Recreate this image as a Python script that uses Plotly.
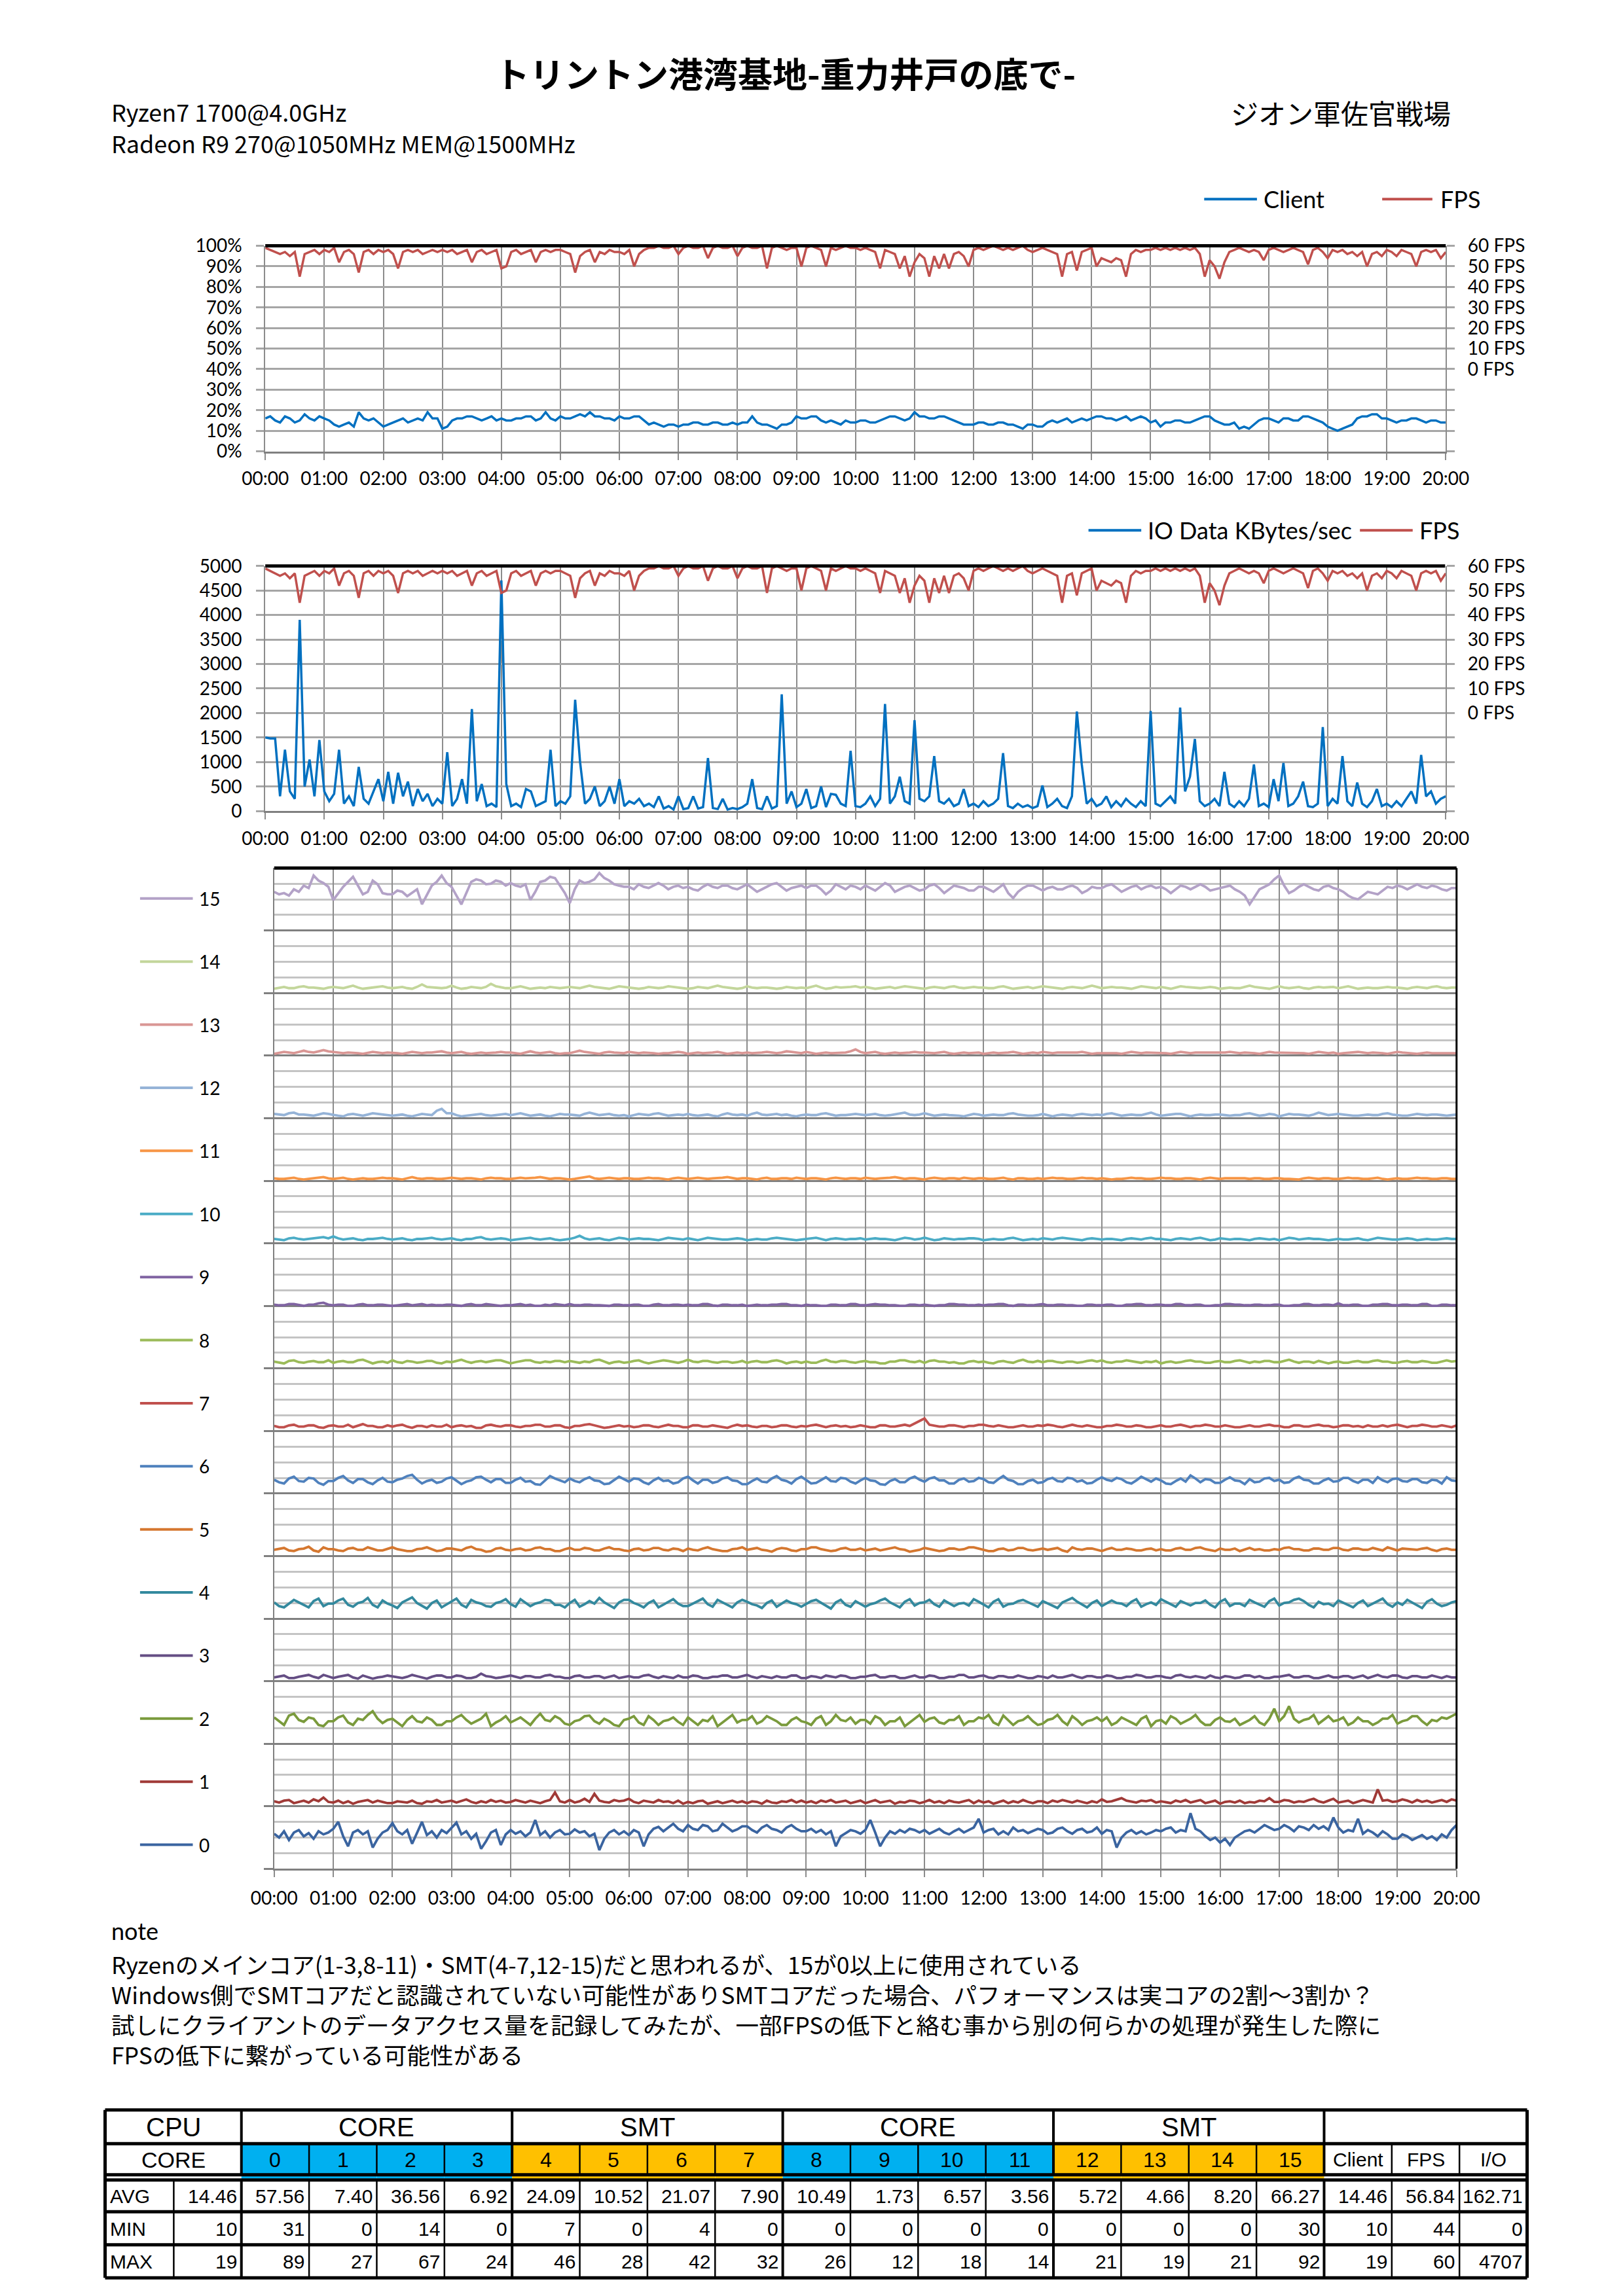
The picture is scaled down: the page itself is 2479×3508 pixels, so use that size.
import plotly.graph_objects as go

W, H = 2479, 3508


def px(x):
    return x / W


def py(y):
    return 1 - y / H


# ---------------- data (one sample every 5 s, 00:00 - 20:00) ----------------
seconds = list(range(0, 1201, 5))
tick_seconds = list(range(0, 1201, 60))
tick_labels = ["00:00", "01:00", "02:00", "03:00", "04:00", "05:00", "06:00", "07:00",
               "08:00", "09:00", "10:00", "11:00", "12:00", "13:00", "14:00", "15:00",
               "16:00", "17:00", "18:00", "19:00", "20:00"]

pct_ticks = [0, 10, 20, 30, 40, 50, 60, 70, 80, 90, 100]
pct_labels = ["0%", "10%", "20%", "30%", "40%", "50%", "60%", "70%", "80%", "90%", "100%"]
io_ticks = [0, 500, 1000, 1500, 2000, 2500, 3000, 3500, 4000, 4500, 5000]
io_labels = ["0", "500", "1000", "1500", "2000", "2500", "3000", "3500", "4000", "4500", "5000"]
fps_ticks = [-40, -30, -20, -10, 0, 10, 20, 30, 40, 50, 60]
fps_labels = ["", "", "", "", "0 FPS", "10 FPS", "20 FPS", "30 FPS", "40 FPS", "50 FPS", "60 FPS"]

fps = [
    59, 58, 57, 56, 57, 55, 57, 45, 56, 57, 58, 56,
    58, 57, 59, 52, 57, 58, 56, 47, 57, 58, 56, 58,
    57, 58, 56, 49, 57, 58, 57, 58, 56, 57, 58, 57,
    58, 57, 58, 56, 57, 58, 52, 57, 58, 56, 57, 58,
    49, 50, 57, 58, 56, 57, 58, 52, 57, 58, 57, 58,
    58, 57, 56, 47, 55, 57, 58, 52, 57, 56, 58, 57,
    57, 56, 58, 50, 56, 58, 59, 59, 60, 59, 59, 60,
    56, 59, 60, 59, 59, 60, 54, 59, 60, 59, 59, 60,
    55, 59, 60, 59, 59, 60, 49, 59, 60, 59, 58, 59,
    59, 50, 59, 60, 59, 58, 50, 59, 58, 59, 60, 59,
    59, 58, 59, 58, 57, 49, 58, 57, 56, 49, 55, 45,
    52, 56, 54, 45, 55, 49, 56, 49, 56, 57, 55, 50,
    58, 59, 58, 59, 60, 59, 58, 59, 58, 59, 60, 58,
    57, 58, 59, 58, 57, 56, 45, 56, 57, 48, 57, 58,
    59, 50, 54, 53, 52, 54, 53, 45, 56, 58, 57, 58,
    58, 59, 58, 59, 58, 59, 58, 59, 58, 59, 56, 45,
    53, 50, 44, 52, 57, 58, 59, 58, 57, 58, 57, 53,
    58, 59, 58, 57, 58, 59, 58, 57, 51, 58, 59, 57,
    54, 58, 57, 58, 56, 57, 55, 57, 50, 56, 57, 55,
    58, 57, 55, 58, 57, 56, 50, 57, 58, 57, 58, 54,
    57]

client = [
    16, 17, 15, 14, 17, 16, 14, 15, 18, 16, 15, 17,
    16, 15, 13, 12, 13, 14, 12, 19, 16, 15, 16, 14,
    12, 13, 14, 15, 16, 14, 15, 16, 15, 19, 16, 16,
    11, 12, 15, 16, 16, 17, 17, 16, 15, 16, 17, 15,
    16, 15, 15, 16, 16, 17, 17, 15, 16, 19, 16, 15,
    17, 16, 16, 17, 18, 17, 19, 17, 17, 16, 16, 15,
    17, 16, 16, 17, 17, 15, 13, 14, 13, 12, 13, 13,
    12, 13, 13, 14, 14, 13, 13, 14, 14, 13, 13, 14,
    13, 14, 14, 17, 14, 13, 13, 12, 11, 13, 13, 14,
    17, 16, 16, 17, 17, 15, 14, 15, 14, 13, 15, 14,
    14, 15, 15, 14, 14, 15, 16, 17, 17, 16, 15, 16,
    19, 17, 17, 16, 16, 17, 17, 16, 15, 14, 13, 13,
    13, 14, 14, 13, 13, 14, 14, 13, 13, 12, 11, 13,
    13, 12, 12, 14, 15, 14, 15, 16, 14, 15, 16, 15,
    16, 17, 17, 16, 16, 15, 16, 17, 15, 16, 17, 16,
    14, 15, 12, 14, 14, 15, 15, 14, 14, 15, 16, 17,
    17, 15, 14, 13, 13, 14, 11, 12, 11, 13, 15, 16,
    16, 15, 14, 16, 16, 15, 15, 17, 17, 16, 15, 14,
    12, 11, 10, 11, 12, 13, 16, 17, 17, 18, 18, 16,
    16, 15, 14, 15, 15, 16, 16, 15, 14, 15, 15, 14,
    14]

io_kb = [
    1500, 1480, 1480, 300, 1250, 400, 250, 3900, 500, 1050, 300, 1450,
    400, 200, 350, 1250, 150, 300, 100, 900, 250, 150, 400, 650,
    200, 800, 150, 780, 300, 600, 100, 450, 200, 350, 100, 250,
    150, 1200, 100, 250, 650, 150, 2080, 200, 550, 100, 150, 80,
    4707, 550, 100, 150, 80, 450, 400, 100, 150, 200, 1250, 100,
    200, 150, 300, 2270, 1000, 150, 250, 500, 100, 200, 500, 150,
    650, 100, 200, 150, 250, 100, 150, 80, 300, 50, 100, 30,
    300, 40, 60, 300, 50, 80, 1080, 60, 40, 250, 30, 60,
    40, 80, 150, 650, 60, 40, 300, 50, 100, 2380, 150, 400,
    80, 150, 450, 60, 100, 500, 80, 350, 330, 150, 100, 1230,
    100, 80, 150, 300, 100, 250, 2185, 150, 300, 700, 200, 150,
    1854, 250, 200, 300, 1120, 200, 150, 250, 100, 150, 450, 100,
    150, 80, 200, 100, 150, 250, 1180, 100, 60, 150, 80, 120,
    60, 100, 520, 80, 150, 250, 100, 60, 300, 2029, 950, 150,
    250, 100, 150, 300, 80, 200, 100, 250, 150, 80, 200, 100,
    2040, 150, 100, 200, 300, 150, 2110, 400, 700, 1470, 200, 100,
    150, 250, 100, 800, 150, 80, 200, 100, 250, 950, 100, 150,
    80, 650, 200, 980, 100, 150, 300, 600, 100, 80, 150, 1712,
    100, 250, 150, 1120, 200, 100, 580, 150, 80, 200, 450, 100,
    150, 80, 200, 100, 250, 400, 150, 1145, 300, 400, 150, 250,
    300]

core_0 = [
    56, 50, 60, 46, 58, 62, 52, 57, 48, 60, 55, 58,
    64, 75, 52, 36, 58, 62, 55, 60, 34, 48, 58, 62,
    73, 60, 55, 62, 40, 58, 75, 54, 60, 50, 62, 57,
    66, 74, 55, 60, 48, 56, 32, 44, 58, 62, 38, 55,
    62, 56, 60, 52, 58, 78, 54, 60, 50, 58, 62, 55,
    56, 63, 58, 60, 52, 56, 30, 48, 58, 62, 55, 60,
    54, 62, 58, 36, 55, 64, 67, 60, 66, 72, 64, 60,
    70, 64, 62, 70, 68, 60, 62, 72, 66, 60, 63, 68,
    68, 62, 58, 66, 70, 64, 62, 58, 66, 70, 64, 60,
    60, 64, 58, 62, 55, 60, 36, 52, 57, 62, 60, 56,
    62, 78, 58, 36, 50, 60, 56, 62, 58, 64, 62, 58,
    62, 56, 60, 64, 58, 55, 60, 64, 58, 62, 66, 80,
    58, 62, 64, 55, 60, 55, 66, 60, 62, 57, 60, 64,
    62, 56, 58, 64, 66, 60, 56, 62, 64, 58, 60, 66,
    56, 62, 60, 34, 50, 58, 62, 56, 60, 55, 58, 62,
    60, 64, 66, 58, 62, 60, 89, 64, 60, 52, 46, 50,
    42, 48, 38, 50, 55, 60, 62, 58, 64, 70, 66, 62,
    64, 70, 66, 60, 68, 66, 62, 70, 64, 68, 62, 82,
    66, 58, 62, 60, 80, 56, 62, 58, 52, 60, 55, 48,
    48, 55, 52, 46, 50, 54, 48, 52, 46, 55, 50, 62,
    70]

core_1 = [
    8, 6, 9, 10, 5, 7, 9, 6, 11, 8, 14, 7,
    6, 9, 5, 8, 4, 7, 8, 10, 6, 9, 7, 5,
    5, 8, 7, 6, 9, 5, 4, 8, 7, 10, 6, 8,
    9, 6, 8, 11, 7, 5, 8, 6, 10, 7, 9, 6,
    7, 10, 8, 6, 9, 7, 5, 8, 10, 22, 8, 6,
    10, 6, 8, 12, 7, 20, 9, 7, 6, 10, 8, 9,
    12, 7, 5, 9, 8, 6, 10, 7, 8, 5, 9, 4,
    7, 5, 8, 9, 4, 6, 8, 5, 7, 9, 6, 8,
    5, 8, 7, 4, 9, 6, 5, 8, 7, 10, 6, 9,
    6, 8, 5, 9, 7, 10, 6, 8, 9, 5, 7, 9,
    5, 8, 10, 6, 8, 9, 4, 7, 6, 9, 8, 5,
    7, 10, 6, 8, 5, 9, 7, 6, 8, 10, 5, 9,
    6, 8, 4, 7, 9, 5, 8, 6, 10, 7, 5, 8,
    8, 5, 9, 7, 10, 8, 6, 9, 7, 5, 8, 6,
    11, 7, 8, 10, 13, 9, 7, 6, 9, 8, 10, 6,
    8, 6, 5, 9, 7, 10, 6, 8, 10, 5, 7, 9,
    4, 7, 8, 6, 9, 5, 7, 6, 9, 8, 13, 7,
    7, 10, 9, 6, 8, 7, 10, 12, 8, 6, 9, 12,
    6, 8, 9, 5, 7, 10, 8, 6, 27, 9, 10, 7,
    8, 11, 9, 6, 10, 7, 9, 6, 8, 10, 7, 11,
    9]

core_2 = [
    42, 36, 30, 45, 48, 38, 35, 42, 40, 30, 28, 36,
    36, 42, 45, 34, 30, 40, 38, 46, 52, 40, 33, 38,
    40, 34, 28, 38, 44, 36, 34, 42, 38, 30, 30, 36,
    36, 42, 46, 38, 32, 36, 40, 48, 28, 34, 38, 44,
    34, 38, 42, 36, 30, 40, 48, 38, 36, 44, 40, 32,
    30, 36, 38, 44, 45, 36, 32, 40, 36, 30, 28, 38,
    40, 44, 34, 30, 44, 38, 30, 36, 38, 42, 35, 30,
    42, 36, 30, 38, 36, 44, 28, 34, 40, 46, 34, 38,
    38, 44, 32, 36, 44, 40, 36, 30, 30, 38, 42, 36,
    34, 30, 40, 44, 30, 36, 46, 38, 36, 42, 32, 38,
    38, 32, 44, 40, 30, 36, 36, 42, 28, 34, 40, 46,
    35, 40, 42, 34, 32, 38, 38, 44, 30, 36, 36, 42,
    40, 46, 34, 30, 45, 38, 30, 36, 38, 44, 36, 30,
    32, 38, 40, 46, 36, 30, 44, 38, 30, 36, 38, 42,
    36, 42, 30, 34, 42, 38, 34, 30, 40, 44, 28, 36,
    38, 32, 44, 40, 32, 36, 40, 46, 36, 30, 30, 38,
    42, 36, 35, 40, 30, 34, 38, 44, 34, 30, 40, 56,
    36, 44, 60, 40, 34, 38, 40, 46, 32, 38, 44, 36,
    38, 42, 30, 34, 42, 36, 36, 30, 34, 40, 40, 46,
    32, 36, 38, 44, 44, 36, 30, 38, 36, 42, 40, 44,
    48]

core_3 = [
    6, 8, 9, 5, 5, 7, 8, 10, 7, 5, 10, 8,
    5, 7, 8, 10, 6, 4, 9, 7, 4, 6, 7, 9,
    8, 6, 5, 7, 10, 8, 6, 4, 7, 9, 9, 6,
    6, 9, 8, 5, 5, 7, 12, 8, 7, 5, 6, 8,
    9, 7, 5, 8, 8, 6, 6, 9, 10, 7, 7, 5,
    5, 8, 9, 6, 6, 8, 8, 5, 7, 9, 5, 7,
    8, 6, 6, 9, 10, 7, 5, 8, 7, 5, 9, 6,
    6, 9, 8, 5, 5, 7, 7, 9, 9, 6, 6, 8,
    10, 7, 5, 8, 7, 5, 8, 6, 6, 9, 9, 5,
    5, 8, 7, 5, 9, 7, 6, 9, 8, 5, 5, 7,
    7, 9, 10, 6, 6, 8, 8, 5, 5, 7, 9, 6,
    6, 9, 8, 5, 5, 7, 7, 10, 10, 6, 6, 8,
    9, 6, 5, 8, 8, 6, 6, 9, 7, 5, 5, 8,
    7, 5, 9, 6, 6, 8, 10, 7, 5, 8, 8, 6,
    6, 9, 8, 5, 5, 7, 7, 10, 9, 6, 6, 8,
    8, 6, 5, 9, 10, 7, 6, 8, 7, 5, 9, 6,
    5, 8, 7, 5, 6, 9, 9, 6, 8, 5, 5, 7,
    7, 9, 10, 6, 6, 8, 8, 5, 5, 7, 9, 6,
    6, 8, 8, 5, 7, 9, 5, 8, 10, 7, 6, 9,
    9, 6, 5, 8, 8, 6, 6, 9, 7, 5, 8, 6,
    6]

core_4 = [
    26, 20, 18, 24, 30, 26, 22, 18, 28, 32, 20, 24,
    24, 29, 32, 22, 19, 25, 27, 33, 22, 18, 29, 24,
    21, 17, 26, 30, 34, 25, 20, 16, 25, 29, 18, 23,
    28, 32, 22, 18, 30, 26, 24, 20, 19, 25, 27, 31,
    23, 19, 31, 26, 20, 24, 26, 30, 29, 22, 22, 18,
    25, 30, 19, 23, 28, 24, 33, 26, 21, 17, 26, 30,
    30, 25, 22, 18, 25, 29, 18, 22, 27, 31, 24, 20,
    20, 24, 28, 32, 23, 19, 30, 26, 22, 18, 26, 30,
    27, 23, 21, 17, 25, 29, 19, 24, 29, 25, 23, 19,
    24, 28, 30, 25, 20, 16, 26, 30, 22, 19, 28, 24,
    19, 23, 25, 29, 32, 26, 22, 18, 27, 31, 21, 25,
    26, 30, 23, 19, 29, 25, 20, 24, 25, 21, 31, 27,
    22, 18, 27, 31, 19, 23, 24, 28, 30, 26, 23, 19,
    28, 24, 21, 17, 26, 30, 33, 27, 22, 18, 25, 29,
    20, 24, 29, 25, 24, 20, 27, 31, 19, 23, 26, 22,
    31, 27, 23, 19, 28, 24, 21, 25, 25, 29, 22, 18,
    27, 31, 20, 24, 24, 20, 30, 26, 23, 19, 28, 32,
    21, 25, 26, 30, 32, 28, 22, 18, 27, 23, 24, 20,
    29, 25, 22, 18, 25, 29, 20, 24, 28, 32, 23, 19,
    26, 22, 30, 26, 21, 17, 27, 31, 24, 20, 22, 26,
    28]

core_5 = [
    10, 12, 13, 9, 8, 11, 12, 15, 9, 7, 14, 11,
    11, 9, 8, 12, 13, 10, 10, 14, 12, 9, 9, 12,
    14, 11, 10, 8, 8, 11, 12, 14, 11, 8, 9, 12,
    12, 10, 9, 13, 15, 11, 10, 7, 8, 12, 13, 10,
    9, 11, 12, 9, 10, 13, 14, 11, 11, 8, 8, 11,
    13, 10, 10, 13, 12, 9, 9, 12, 14, 11, 11, 9,
    8, 11, 12, 9, 10, 13, 13, 10, 9, 12, 11, 8,
    12, 10, 9, 12, 14, 11, 10, 8, 8, 11, 12, 14,
    10, 12, 13, 10, 9, 7, 11, 13, 12, 9, 8, 11,
    11, 14, 14, 11, 10, 8, 9, 12, 13, 10, 10, 12,
    9, 11, 12, 9, 11, 13, 14, 11, 10, 7, 8, 10,
    13, 11, 10, 8, 9, 12, 12, 10, 11, 14, 14, 12,
    10, 8, 8, 11, 12, 9, 10, 13, 13, 10, 9, 11,
    12, 10, 11, 13, 9, 7, 14, 11, 10, 12, 12, 10,
    8, 11, 13, 10, 10, 12, 11, 9, 9, 11, 12, 9,
    11, 9, 9, 12, 13, 10, 10, 13, 14, 11, 10, 8,
    12, 10, 10, 12, 8, 11, 13, 10, 11, 9, 9, 11,
    10, 13, 14, 11, 11, 9, 9, 12, 12, 10, 10, 13,
    13, 10, 9, 12, 12, 10, 10, 13, 11, 9, 14, 11,
    9, 12, 11, 10, 10, 12, 13, 10, 8, 11, 12, 10,
    10]

core_6 = [
    22, 18, 16, 24, 27, 20, 19, 25, 24, 17, 14, 20,
    20, 25, 28, 21, 17, 23, 23, 18, 15, 21, 25, 19,
    18, 22, 24, 28, 30, 22, 16, 20, 22, 17, 19, 24,
    26, 20, 15, 19, 21, 26, 27, 22, 18, 23, 23, 17,
    17, 22, 25, 19, 20, 15, 14, 21, 28, 24, 21, 18,
    24, 20, 18, 23, 26, 21, 20, 15, 16, 22, 27, 23,
    19, 24, 23, 18, 15, 21, 25, 20, 21, 16, 18, 24,
    27, 21, 16, 22, 22, 17, 19, 24, 26, 21, 20, 15,
    15, 20, 24, 19, 18, 24, 28, 22, 20, 16, 23, 27,
    21, 16, 17, 22, 26, 20, 19, 25, 24, 19, 16, 21,
    25, 21, 20, 15, 14, 20, 23, 18, 18, 24, 27, 22,
    19, 24, 26, 21, 21, 16, 16, 22, 24, 19, 20, 25,
    23, 18, 17, 23, 28, 22, 20, 15, 15, 20, 22, 17,
    18, 23, 25, 20, 19, 25, 24, 19, 21, 16, 17, 22,
    26, 22, 20, 25, 23, 18, 16, 21, 27, 23, 19, 24,
    21, 16, 15, 20, 24, 19, 29, 24, 18, 23, 22, 17,
    17, 22, 26, 21, 20, 15, 23, 18, 19, 24, 25, 20,
    22, 17, 18, 24, 27, 22, 21, 16, 16, 21, 24, 19,
    20, 25, 25, 20, 17, 22, 22, 17, 26, 21, 18, 23,
    24, 20, 19, 23, 23, 18, 17, 22, 21, 16, 26, 21,
    20]

core_7 = [
    8, 6, 6, 9, 10, 7, 7, 9, 9, 6, 5, 8,
    9, 7, 7, 10, 6, 9, 11, 8, 8, 6, 6, 9,
    7, 9, 10, 7, 5, 8, 8, 6, 9, 7, 7, 10,
    6, 8, 9, 7, 8, 5, 5, 9, 10, 8, 7, 9,
    9, 7, 6, 8, 8, 10, 10, 7, 7, 9, 9, 6,
    5, 8, 8, 10, 11, 9, 7, 5, 6, 8, 9, 7,
    8, 6, 7, 9, 9, 7, 6, 8, 10, 8, 8, 6,
    6, 9, 9, 7, 7, 9, 8, 6, 5, 8, 10, 8,
    9, 7, 6, 8, 8, 6, 7, 9, 9, 7, 6, 8,
    7, 9, 10, 8, 6, 8, 9, 7, 8, 6, 7, 9,
    8, 6, 6, 9, 9, 7, 7, 9, 10, 8, 12, 15,
    20, 10, 8, 7, 7, 9, 9, 7, 6, 8, 8, 10,
    10, 8, 7, 9, 8, 6, 6, 8, 9, 7, 7, 9,
    8, 10, 9, 7, 6, 8, 10, 8, 7, 9, 8, 6,
    6, 8, 8, 10, 9, 7, 7, 9, 8, 6, 6, 8,
    9, 7, 7, 9, 10, 8, 6, 8, 8, 10, 9, 7,
    7, 9, 8, 6, 6, 8, 9, 7, 7, 9, 10, 8,
    8, 6, 6, 9, 9, 7, 7, 9, 10, 8, 8, 6,
    7, 9, 9, 7, 8, 6, 9, 7, 7, 9, 7, 9,
    10, 8, 6, 8, 8, 10, 9, 7, 7, 9, 8, 6,
    9]

core_8 = [
    11, 9, 8, 12, 13, 10, 9, 11, 12, 10, 10, 13,
    9, 11, 12, 10, 10, 13, 14, 11, 8, 10, 11, 9,
    13, 10, 9, 12, 11, 9, 10, 12, 12, 9, 8, 11,
    10, 12, 14, 11, 9, 11, 12, 10, 11, 13, 13, 10,
    8, 10, 11, 13, 13, 10, 9, 11, 10, 12, 12, 10,
    12, 10, 9, 11, 10, 13, 14, 11, 8, 10, 11, 9,
    10, 12, 13, 10, 8, 10, 11, 13, 12, 10, 9, 11,
    14, 11, 10, 12, 12, 10, 9, 11, 11, 9, 10, 12,
    9, 11, 12, 10, 10, 12, 13, 11, 8, 10, 11, 9,
    11, 9, 9, 12, 14, 11, 10, 12, 12, 10, 9, 11,
    12, 10, 10, 8, 8, 11, 11, 13, 13, 11, 10, 12,
    9, 12, 13, 11, 11, 9, 10, 8, 8, 11, 12, 10,
    11, 9, 8, 11, 12, 10, 9, 12, 14, 11, 10, 12,
    10, 12, 12, 10, 9, 11, 11, 9, 10, 12, 13, 11,
    13, 10, 9, 11, 11, 13, 12, 10, 9, 11, 10, 12,
    8, 10, 11, 9, 10, 12, 13, 11, 11, 9, 9, 11,
    12, 10, 10, 12, 13, 11, 9, 11, 10, 12, 12, 10,
    10, 12, 14, 11, 9, 11, 11, 9, 12, 10, 8, 10,
    11, 9, 9, 11, 12, 10, 10, 12, 13, 11, 11, 9,
    9, 11, 12, 10, 10, 12, 11, 9, 9, 11, 13, 11,
    12]

core_9 = [
    2, 1, 1, 3, 3, 1, 0, 2, 2, 4, 5, 2,
    1, 2, 2, 0, 0, 2, 3, 1, 1, 2, 2, 1,
    0, 1, 2, 3, 1, 2, 3, 1, 2, 1, 1, 2,
    2, 1, 0, 2, 3, 1, 1, 3, 2, 1, 0, 1,
    1, 2, 3, 1, 2, 0, 0, 2, 1, 3, 2, 1,
    3, 1, 1, 2, 2, 1, 1, 0, 0, 2, 2, 1,
    1, 2, 2, 0, 0, 2, 3, 1, 1, 2, 2, 1,
    2, 1, 1, 3, 3, 1, 0, 2, 2, 1, 1, 2,
    0, 1, 2, 1, 1, 2, 2, 3, 3, 1, 1, 0,
    2, 1, 1, 0, 0, 2, 2, 1, 1, 3, 3, 1,
    1, 2, 3, 2, 2, 1, 1, 0, 0, 2, 2, 1,
    2, 1, 0, 1, 1, 3, 3, 2, 2, 1, 1, 2,
    1, 2, 2, 3, 3, 1, 0, 2, 2, 1, 1, 2,
    3, 1, 1, 2, 2, 1, 1, 0, 0, 2, 2, 1,
    1, 2, 2, 0, 0, 2, 2, 3, 3, 1, 1, 2,
    2, 1, 1, 3, 3, 1, 1, 2, 2, 0, 0, 1,
    1, 3, 3, 2, 2, 1, 1, 2, 2, 1, 1, 2,
    2, 0, 0, 1, 1, 3, 3, 1, 1, 2, 2, 1,
    4, 1, 1, 2, 2, 0, 0, 2, 2, 3, 3, 1,
    1, 2, 2, 1, 1, 3, 3, 0, 0, 2, 2, 1,
    1]

core_10 = [
    7, 6, 5, 8, 9, 7, 6, 7, 8, 9, 10, 8,
    11, 8, 6, 7, 8, 6, 5, 7, 7, 8, 9, 7,
    6, 7, 8, 6, 5, 7, 7, 8, 9, 7, 6, 7,
    8, 6, 5, 7, 7, 9, 10, 7, 6, 7, 8, 7,
    5, 6, 7, 8, 9, 7, 6, 7, 8, 6, 5, 6,
    7, 9, 12, 8, 6, 7, 8, 6, 5, 7, 9, 8,
    6, 7, 8, 7, 7, 6, 5, 7, 9, 8, 7, 6,
    8, 6, 5, 7, 9, 8, 7, 6, 6, 7, 8, 7,
    5, 6, 7, 6, 6, 8, 9, 8, 7, 6, 5, 6,
    7, 8, 9, 7, 5, 7, 8, 7, 6, 7, 7, 8,
    6, 7, 8, 7, 7, 6, 5, 7, 9, 8, 6, 7,
    9, 7, 5, 6, 8, 7, 6, 7, 7, 8, 8, 7,
    5, 6, 7, 6, 6, 8, 9, 7, 5, 6, 7, 6,
    8, 7, 6, 8, 9, 8, 7, 6, 5, 7, 8, 7,
    6, 7, 7, 6, 5, 7, 8, 7, 6, 8, 9, 7,
    7, 6, 5, 7, 8, 7, 6, 8, 9, 7, 5, 6,
    8, 7, 6, 7, 7, 6, 5, 7, 8, 7, 6, 7,
    5, 7, 9, 8, 6, 7, 8, 7, 7, 6, 5, 6,
    7, 6, 6, 7, 8, 6, 5, 7, 9, 8, 7, 6,
    6, 7, 8, 7, 5, 6, 7, 6, 6, 7, 8, 7,
    7]

core_11 = [
    4, 3, 3, 4, 5, 3, 2, 3, 4, 5, 6, 4,
    3, 4, 5, 3, 2, 3, 4, 3, 3, 4, 5, 4,
    4, 3, 2, 4, 6, 4, 3, 4, 4, 3, 3, 4,
    5, 4, 3, 4, 4, 3, 2, 4, 5, 4, 4, 3,
    3, 4, 5, 4, 4, 5, 6, 4, 3, 4, 4, 3,
    2, 3, 4, 5, 7, 4, 3, 4, 5, 4, 3, 4,
    4, 3, 3, 4, 5, 4, 4, 3, 2, 4, 5, 4,
    3, 4, 5, 4, 3, 4, 4, 5, 6, 4, 3, 4,
    4, 3, 2, 4, 5, 3, 3, 4, 4, 3, 5, 4,
    3, 4, 4, 3, 2, 4, 5, 4, 3, 4, 4, 3,
    5, 4, 3, 4, 4, 5, 6, 4, 3, 4, 4, 3,
    2, 4, 5, 4, 3, 4, 4, 3, 5, 4, 3, 4,
    4, 3, 3, 4, 5, 3, 2, 4, 4, 3, 3, 4,
    3, 4, 5, 4, 4, 3, 3, 4, 5, 4, 4, 3,
    4, 3, 2, 3, 3, 4, 5, 4, 4, 3, 3, 4,
    5, 4, 4, 3, 3, 4, 4, 3, 2, 4, 5, 4,
    3, 4, 4, 5, 5, 4, 3, 4, 4, 3, 3, 4,
    4, 3, 3, 2, 2, 4, 5, 4, 3, 4, 4, 3,
    3, 4, 5, 4, 4, 3, 3, 4, 5, 3, 2, 3,
    4, 3, 3, 4, 5, 4, 4, 3, 3, 4, 4, 3,
    3]

core_12 = [
    7, 6, 5, 8, 9, 6, 6, 5, 4, 6, 8, 7,
    5, 4, 3, 6, 7, 5, 4, 6, 8, 7, 6, 5,
    4, 5, 6, 4, 3, 5, 7, 6, 5, 12, 15, 8,
    8, 5, 3, 4, 5, 6, 7, 5, 4, 5, 6, 7,
    5, 7, 8, 6, 4, 5, 6, 4, 3, 5, 7, 6,
    6, 5, 4, 7, 9, 7, 5, 6, 7, 5, 4, 5,
    3, 5, 7, 6, 5, 7, 8, 6, 4, 5, 6, 5,
    7, 5, 4, 5, 6, 4, 3, 6, 8, 6, 5, 6,
    4, 7, 9, 6, 5, 6, 7, 5, 6, 4, 3, 5,
    6, 5, 5, 7, 8, 6, 4, 5, 5, 6, 7, 6,
    5, 6, 7, 5, 4, 5, 6, 8, 9, 6, 5, 6,
    8, 6, 4, 5, 6, 5, 5, 4, 3, 5, 7, 6,
    4, 5, 6, 5, 5, 7, 8, 6, 5, 4, 4, 5,
    7, 5, 3, 5, 6, 5, 4, 6, 7, 6, 5, 6,
    5, 7, 8, 6, 4, 5, 6, 5, 5, 7, 9, 6,
    4, 5, 6, 7, 7, 5, 3, 5, 6, 5, 5, 6,
    6, 5, 4, 5, 5, 7, 8, 6, 4, 5, 7, 6,
    3, 5, 7, 6, 6, 5, 4, 6, 9, 7, 5, 6,
    7, 6, 5, 4, 4, 5, 6, 5, 5, 7, 8, 6,
    5, 4, 4, 6, 7, 6, 5, 6, 6, 5, 4, 5,
    6]

core_13 = [
    3, 4, 6, 5, 4, 6, 8, 6, 5, 7, 9, 7,
    6, 5, 4, 5, 5, 4, 3, 5, 6, 5, 4, 5,
    5, 4, 3, 5, 6, 5, 4, 5, 5, 6, 7, 5,
    4, 5, 6, 4, 3, 4, 5, 4, 4, 5, 6, 5,
    5, 4, 3, 5, 7, 5, 4, 5, 6, 4, 3, 4,
    4, 6, 8, 6, 5, 4, 3, 5, 6, 5, 5, 4,
    6, 5, 4, 5, 5, 4, 3, 4, 4, 5, 6, 5,
    3, 4, 5, 4, 4, 5, 6, 4, 3, 4, 5, 4,
    5, 4, 4, 5, 6, 5, 4, 5, 7, 6, 5, 4,
    6, 4, 3, 4, 5, 4, 4, 5, 5, 7, 10, 6,
    4, 5, 6, 4, 3, 4, 5, 4, 4, 5, 6, 5,
    5, 4, 4, 5, 6, 4, 3, 4, 5, 4, 4, 5,
    3, 4, 5, 4, 4, 5, 6, 4, 3, 4, 5, 4,
    6, 5, 4, 5, 5, 4, 4, 5, 6, 4, 3, 4,
    4, 5, 5, 4, 3, 4, 6, 5, 4, 5, 5, 4,
    5, 4, 3, 4, 6, 5, 4, 5, 5, 4, 4, 5,
    4, 5, 6, 5, 4, 5, 5, 4, 3, 4, 6, 5,
    5, 4, 4, 5, 5, 4, 3, 4, 6, 5, 4, 5,
    3, 4, 5, 6, 6, 5, 4, 5, 5, 4, 3, 4,
    6, 5, 4, 4, 3, 4, 5, 4, 4, 5, 5, 4,
    4]

core_14 = [
    7, 9, 10, 8, 8, 10, 11, 9, 9, 8, 7, 9,
    10, 9, 8, 10, 12, 9, 7, 8, 9, 10, 11, 9,
    8, 9, 10, 8, 7, 10, 14, 10, 9, 8, 8, 9,
    12, 9, 7, 8, 10, 9, 8, 10, 15, 11, 9, 8,
    8, 10, 11, 9, 7, 8, 9, 8, 10, 9, 8, 9,
    10, 9, 8, 10, 12, 10, 9, 8, 7, 9, 11, 10,
    9, 8, 7, 8, 10, 9, 8, 9, 11, 10, 9, 8,
    7, 8, 10, 9, 8, 10, 12, 10, 9, 8, 7, 8,
    11, 9, 8, 9, 9, 8, 7, 8, 10, 9, 8, 9,
    8, 10, 12, 9, 7, 8, 10, 9, 9, 10, 11, 9,
    10, 8, 7, 8, 9, 10, 8, 9, 11, 10, 9, 8,
    7, 9, 10, 9, 8, 10, 11, 9, 8, 9, 10, 9,
    9, 8, 8, 10, 11, 9, 7, 8, 9, 10, 8, 9,
    11, 10, 9, 8, 7, 9, 10, 9, 8, 10, 12, 10,
    8, 9, 10, 9, 9, 8, 7, 9, 11, 10, 9, 8,
    10, 8, 7, 9, 11, 10, 9, 8, 8, 9, 10, 9,
    7, 8, 9, 8, 8, 10, 12, 10, 9, 8, 7, 9,
    11, 9, 8, 9, 10, 8, 7, 9, 10, 9, 9, 10,
    8, 10, 11, 9, 7, 8, 9, 8, 8, 9, 10, 9,
    9, 8, 7, 9, 10, 9, 8, 10, 11, 9, 8, 9,
    9]

core_15 = [
    62, 58, 60, 56, 66, 62, 72, 68, 88, 80, 76, 70,
    49, 60, 70, 78, 86, 72, 58, 62, 80, 74, 60, 58,
    58, 64, 62, 55, 60, 66, 42, 56, 72, 78, 88, 76,
    70, 56, 42, 60, 78, 82, 80, 74, 75, 80, 78, 72,
    76, 72, 70, 74, 49, 62, 78, 80, 86, 84, 72, 60,
    44, 66, 80, 76, 78, 82, 92, 84, 80, 74, 72, 70,
    70, 66, 74, 70, 68, 72, 76, 72, 66, 70, 72, 68,
    70, 66, 64, 70, 74, 70, 68, 72, 72, 68, 66, 70,
    74, 68, 62, 66, 70, 74, 76, 70, 64, 68, 70, 72,
    68, 72, 72, 66, 58, 64, 74, 70, 66, 72, 70, 66,
    72, 68, 64, 70, 76, 72, 62, 66, 70, 72, 68, 64,
    66, 72, 74, 68, 60, 66, 72, 70, 68, 64, 64, 70,
    70, 66, 62, 68, 74, 60, 52, 62, 68, 72, 72, 68,
    64, 68, 70, 66, 66, 70, 72, 68, 60, 64, 70, 68,
    68, 72, 74, 68, 62, 66, 70, 72, 66, 70, 72, 68,
    70, 66, 60, 66, 72, 70, 66, 70, 74, 70, 64, 66,
    68, 70, 72, 66, 62, 56, 42, 54, 66, 70, 74, 82,
    88, 72, 60, 64, 70, 74, 70, 66, 64, 70, 72, 68,
    66, 62, 56, 52, 50, 56, 62, 60, 58, 64, 70, 68,
    72, 70, 66, 70, 74, 70, 68, 72, 70, 66, 64, 68,
    68]

cores = [core_0, core_1, core_2, core_3, core_4, core_5, core_6, core_7,
         core_8, core_9, core_10, core_11, core_12, core_13, core_14, core_15]
core_names = [str(k) for k in range(16)]
core_colors = ["#3A64A0", "#A03A37", "#7A9A3C", "#654E84", "#33899E", "#D5772F",
               "#4F81BD", "#C0504D", "#9BBB59", "#8064A2", "#4BACC6", "#F79646",
               "#95B3D7", "#D99694", "#C3D69B", "#B3A2C7"]

for s in [fps, client, io_kb] + cores:
    assert len(s) == len(seconds), len(s)

# table values
table_cpu = [14.46, 10, 19]
core_avg = [57.56, 7.40, 36.56, 6.92, 24.09, 10.52, 21.07, 7.90,
            10.49, 1.73, 6.57, 3.56, 5.72, 4.66, 8.20, 66.27]
core_min = [31, 0, 14, 0, 7, 0, 4, 0, 0, 0, 0, 0, 0, 0, 0, 30]
core_max = [89, 27, 67, 24, 46, 28, 42, 32, 26, 12, 18, 14, 21, 19, 21, 92]
extra_names = ["Client", "FPS", "I/O"]
extra_avg = [14.46, 56.84, 162.71]
extra_min = [10, 44, 0]
extra_max = [19, 60, 4707]

# ---------------- styling ----------------
LAT = "Lato, 'Noto Sans', sans-serif"
CJK = "'Noto Sans CJK JP', 'Noto Sans', sans-serif"
TBL = "'Liberation Sans', Arial, sans-serif"
BLUE = "#0070C0"
RED = "#C0504D"
HGRID = "#A6A6A6"
VGRID = "#8C8C8C"

fig = go.Figure()

fig.add_trace(go.Scatter(x=seconds, y=client, xaxis="x", yaxis="y", mode="lines",
                         line=dict(color=BLUE, width=3.5), name="Client"))
fig.add_trace(go.Scatter(x=seconds, y=fps, xaxis="x", yaxis="y2", mode="lines",
                         line=dict(color=RED, width=3.5), name="FPS"))
fig.add_trace(go.Scatter(x=seconds, y=io_kb, xaxis="x2", yaxis="y3", mode="lines",
                         line=dict(color=BLUE, width=3.5), name="IO Data KBytes/sec"))
fig.add_trace(go.Scatter(x=seconds, y=fps, xaxis="x2", yaxis="y4", mode="lines",
                         line=dict(color=RED, width=3.5), name="FPS"))
for k in range(16):
    fig.add_trace(go.Scatter(x=seconds, y=cores[k], xaxis="x3", yaxis=f"y{5 + k}",
                             mode="lines", line=dict(color=core_colors[k], width=3.8),
                             name=core_names[k]))

tickfont = dict(family=LAT, size=28, color="black")


def xaxis_def(x0, x1, anchor, standoff):
    return dict(domain=[px(x0), px(x1)], anchor=anchor, range=[0, 1200],
                tickmode="array", tickvals=tick_seconds, ticktext=tick_labels,
                showgrid=True, gridcolor=VGRID, gridwidth=2,
                ticks="outside", ticklen=10, tickwidth=2, tickcolor=VGRID,
                showline=True, linecolor="#808080", linewidth=3,
                zeroline=False, tickfont=tickfont, ticklabelstandoff=standoff)


def left_axis(y0, y1, anchor, rng, tv, tt):
    return dict(domain=[py(y1), py(y0)], anchor=anchor, range=rng,
                tickmode="array", tickvals=tv, ticktext=tt,
                showgrid=True, gridcolor=HGRID, gridwidth=3,
                ticks="outside", ticklen=12, tickwidth=3, tickcolor=HGRID,
                showline=True, linecolor=VGRID, linewidth=2,
                zeroline=False, tickfont=tickfont, ticklabelstandoff=16)


def right_axis(over, anchor):
    return dict(overlaying=over, anchor=anchor, side="right", range=[-40, 60],
                tickmode="array", tickvals=fps_ticks, ticktext=fps_labels,
                showgrid=False, ticks="outside", ticklen=12, tickwidth=3, tickcolor=HGRID,
                showline=True, linecolor=VGRID, linewidth=2,
                zeroline=False, tickfont=tickfont, ticklabelstandoff=14)


layout = dict(
    width=W, height=H, margin=dict(l=0, r=0, t=0, b=0), autosize=False,
    paper_bgcolor="white", plot_bgcolor="rgba(0,0,0,0)", showlegend=False,
    font=dict(family=LAT, size=28, color="black"),
    xaxis=xaxis_def(372, 2229, "y", 5),
    yaxis=left_axis(353, 670, "x", [0, 100], pct_ticks, pct_labels),
    yaxis2=right_axis("y", "x"),
    xaxis2=xaxis_def(372, 2229, "y3", 5),
    yaxis3=left_axis(847, 1225, "x2", [0, 5000], io_ticks, io_labels),
    yaxis4=right_axis("y3", "x2"),
    xaxis3=xaxis_def(386, 2246, "y5", 8),
)

core_top = 1313
band = 96.5
ext = 4.0
for k in range(16):
    bottom = core_top + (16 - k) * band
    top = bottom - band
    lo = 0 if k == 0 else -ext
    dom_bottom = bottom + (-lo) * band / 100.0
    layout[f"yaxis{5 + k}"] = dict(
        domain=[py(dom_bottom), py(top)], anchor="x3", range=[lo, 100],
        tickmode="array", tickvals=[0], ticktext=[""], showticklabels=False,
        ticks="outside", ticklen=14, tickwidth=3, tickcolor="#808080",
        showgrid=True, gridcolor="#808080", gridwidth=3,
        minor=dict(tickmode="array", tickvals=[25, 50, 75], showgrid=True,
                   gridcolor="#C4C4C4", gridwidth=3, ticks=""),
        showline=True, linecolor="#808080", linewidth=2, zeroline=False)

fig.update_layout(**layout)

shapes = []
annotations = []


def hline(x0, x1, y, color="black", width=4):
    shapes.append(dict(type="line", xref="paper", yref="paper", x0=px(x0), x1=px(x1),
                       y0=py(y), y1=py(y), line=dict(color=color, width=width)))


def vline(x, y0, y1, color="black", width=4):
    shapes.append(dict(type="line", xref="paper", yref="paper", x0=px(x), x1=px(x),
                       y0=py(y0), y1=py(y1), line=dict(color=color, width=width)))


def text(x, y, s, size, family=LAT, xanchor="left", yanchor="middle", color="black"):
    annotations.append(dict(xref="paper", yref="paper", x=px(x), y=py(y), text=s,
                            showarrow=False, xanchor=xanchor, yanchor=yanchor, align="left",
                            font=dict(family=family, size=size, color=color)))


# black top edges
hline(372, 2229, 353, width=5)
hline(372, 2228, 847, width=5)
hline(386, 2246, 1313, width=5)
vline(2246, 1313, 2857, width=3)

# chart legends
hline(1849, 1932, 281, color=BLUE, width=4)
text(1940, 281, "Client", 36)
hline(2129, 2208, 281, color=RED, width=4)
text(2218, 281, "FPS", 36)
hline(1667, 1750, 792, color=BLUE, width=4)
text(1758, 792, "IO Data KBytes/sec", 36)
hline(2094, 2177, 792, color=RED, width=4)
text(2185, 792, "FPS", 36)

# core legend
for k in range(16):
    yy = 1360 + (15 - k) * 97.33
    hline(175, 258, yy, color=core_colors[k], width=4)
    text(266, yy, core_names[k], 28)

# header texts
text(1190, 86, "<b>トリントン港湾基地-重力井戸の底で-</b>", 53, family=CJK, xanchor="center")
text(128, 145, "Ryzen7 1700@4.0GHz", 36, family=CJK)
text(128, 194, "Radeon R9 270@1050MHz MEM@1500MHz", 36, family=CJK)
text(1889, 147, "ジオン軍佐官戦場", 42, family=CJK)

# notes (one multi-line text block)
text(128, 2953, "note", 36)
note_lines = [
    "Ryzenのメインコア(1-3,8-11)・SMT(4-7,12-15)だと思われるが、15が0以上に使用されている",
    "Windows側でSMTコアだと認識されていない可能性がありSMTコアだった場合、パフォーマンスは実コアの2割～3割か？",
    "試しにクライアントのデータアクセス量を記録してみたが、一部FPSの低下と絡む事から別の何らかの処理が発生した際に",
    "FPSの低下に繋がっている可能性がある",
]
text(128, 2976, "<br>".join(note_lines), 35.5, family=CJK, yanchor="top")

# ---------------- table ----------------
T_L, T_R = 120, 2357
LAB_END = 228
cw = (T_R - LAB_END) / 20
edges = [LAB_END + i * cw for i in range(21)]
R1, R2, R3, S1 = 3229, 3281, 3329, 3337
DR = [3337, 3386, 3437, 3488]
CYAN = "#00B0F0"
AMBER = "#FFC000"

for k in range(16):
    c = CYAN if (k // 4) % 2 == 0 else AMBER
    shapes.append(dict(type="rect", xref="paper", yref="paper",
                       x0=px(edges[1 + k]), x1=px(edges[2 + k]), y0=py(3335), y1=py(R2),
                       fillcolor=c, line=dict(width=0), layer="below"))

for yy in [R1, R2, R3, S1] + DR[1:]:
    hline(T_L, T_R, yy, width=5)
vline(T_L, R1, DR[-1], width=5)
vline(T_R, R1, DR[-1], width=5)
group_edges = [edges[1], edges[5], edges[9], edges[13], edges[17]]
for gx in group_edges:
    vline(gx, R1, R2, width=4)
for i in range(1, 20):
    w = 4 if edges[i] in group_edges else 2.5
    vline(edges[i], R2, R3, width=w)
    vline(edges[i], S1, DR[-1], width=w)
vline(edges[0], S1, DR[-1], width=2.5)

text((T_L + edges[1]) / 2, 3256, "CPU", 40, family=TBL, xanchor="center")
for gi, name in enumerate(["CORE", "SMT", "CORE", "SMT"]):
    text((group_edges[gi] + group_edges[gi + 1]) / 2, 3256, name, 40, family=TBL, xanchor="center")
text((T_L + edges[1]) / 2, 3306, "CORE", 34, family=TBL, xanchor="center")
for k in range(16):
    text((edges[1 + k] + edges[2 + k]) / 2, 3306, core_names[k], 32, family=TBL, xanchor="center")
for j, name in enumerate(extra_names):
    text((edges[17 + j] + edges[18 + j]) / 2, 3306, name, 30, family=TBL, xanchor="center")

row_names = ["AVG", "MIN", "MAX"]
row_y = [3362, 3413, 3463]
core_rows = [core_avg, core_min, core_max]
extra_rows = [extra_avg, extra_min, extra_max]
for r in range(3):
    fmt = (lambda v: f"{v:.2f}") if r == 0 else (lambda v: f"{int(v)}")
    text(126, row_y[r], row_names[r], 30, family=TBL)
    text(edges[1] - 5, row_y[r], fmt(table_cpu[r]), 30, family=TBL, xanchor="right")
    for k in range(16):
        text(edges[2 + k] - 5, row_y[r], fmt(core_rows[r][k]), 30, family=TBL, xanchor="right")
    for j in range(3):
        text(edges[18 + j] - 5, row_y[r], fmt(extra_rows[r][j]), 30, family=TBL, xanchor="right")

fig.update_layout(shapes=shapes, annotations=annotations)
fig.write_html("out.html")
